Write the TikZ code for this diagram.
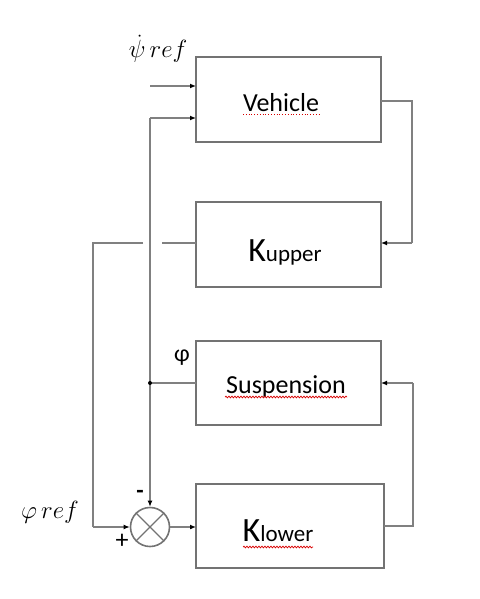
\documentclass[tikz,border=0pt]{standalone}
\usepackage{fontspec}
\setmainfont{Carlito}
\usetikzlibrary{arrows.meta,decorations.pathmorphing}
\begin{document}
\begin{tikzpicture}[x=1pt,y=-1pt,
  blockbox/.style={draw=black!55,line width=1.6pt,fill=white},
  wire/.style={draw=black!50,line width=1.6pt},
  arr/.style={wire,-{Latex[length=6pt,width=5pt,color=black]}},
  lbl/.style={inner sep=0pt,anchor=base},
  spell/.style={red!85!black,line width=0.7pt,decorate,decoration={snake,amplitude=0.9pt,segment length=3pt}},
  spelldot/.style={red!85!black,line width=0.8pt,dotted}]
\useasboundingbox (0,0) rectangle (479,599);
% blocks
\draw[blockbox] (196,57) rectangle (381,142);
\draw[blockbox] (196,202) rectangle (381,287);
\draw[blockbox] (196,341) rectangle (381,425);
\draw[blockbox] (196,484) rectangle (384,568);
\coordinate (vehE) at (381,101);
\coordinate (kupW) at (196,243);
\coordinate (kupE) at (381,243);
\coordinate (susW) at (196,383);
\coordinate (susE) at (381,383);
\coordinate (klwW) at (196,527);
\coordinate (klwE) at (384,526);
% block texts
\node[lbl,font=\fontsize{26}{30}\selectfont] (vehT) at (281,111) {Vehicle};
\node[lbl] (kupT) at (285,261.5) {\fontsize{34}{38}\selectfont K\fontsize{23}{26}\selectfont upper};
\node[lbl,font=\fontsize{26}{30}\selectfont] (susT) at (286,393) {Suspension};
\node[lbl] (klwT) at (278,541.5) {\fontsize{34}{38}\selectfont K\fontsize{23}{26}\selectfont lower};
% spell-check underlines
\draw[spelldot] (243,114.5) -- (320,114.5);
\draw[spell] (225,397) -- (347,397);
\draw[spell] (243,547) -- (313,547);
% summing junction
\node[draw=black!55,line width=1.6pt,circle,minimum size=39pt,inner sep=0pt] (sum) at (150,527) {};
\draw[black!55,line width=1.2pt] (sum.north west) -- (sum.south east);
\draw[black!55,line width=1.2pt] (sum.north east) -- (sum.south west);
% labels
\node[lbl,font=\fontsize{26}{30}\selectfont] (psiref) at (158,58) {$\dot{\psi}\,ref$};
\node[lbl,font=\fontsize{26}{30}\selectfont] (phiref) at (50,518) {$\varphi\,ref$};
\node[lbl,font=\fontsize{24}{28}\selectfont] (phi) at (182,361) {φ};
\node[lbl,font=\bfseries\fontsize{24}{28}\selectfont] (minus) at (140,498) {-};
\node[lbl,font=\fontsize{26}{30}\selectfont] (plus) at (122,548) {+};
% coordinates for wires
\coordinate (in1) at (150,86);
\coordinate (vehIn1) at (196,86);
\coordinate (tap) at (150,118);
\coordinate (vehIn2) at (196,118);
\coordinate (r1) at (412,101);
\coordinate (r2) at (412,243);
\coordinate (gapR) at (162,243);
\coordinate (gapL) at (143,243);
\coordinate (l1) at (93,243);
\coordinate (l2) at (93,527);
\coordinate (sdot) at (150,383);
\coordinate (r3) at (413,526);
\coordinate (r4) at (413,383);
% wires
\draw[arr] (in1) -- (vehIn1);
\draw[arr] (tap) -- (vehIn2);
\draw[wire] (vehE) -- (r1) -- (r2);
\draw[arr] (r2) -- (kupE);
\draw[wire] (kupW) -- (gapR);
\draw[wire] (gapL) -- (l1) -- (l2);
\draw[arr] (l2) -- (sum.west);
\draw[arr] (tap) -- (sum.north);
\draw[wire] (susW) -- (sdot);
\fill[black] (sdot) circle (2pt);
\draw[arr] (sum.east) -- (klwW);
\draw[wire] (klwE) -- (r3) -- (r4);
\draw[arr] (r4) -- (susE);
\end{tikzpicture}
\end{document}
